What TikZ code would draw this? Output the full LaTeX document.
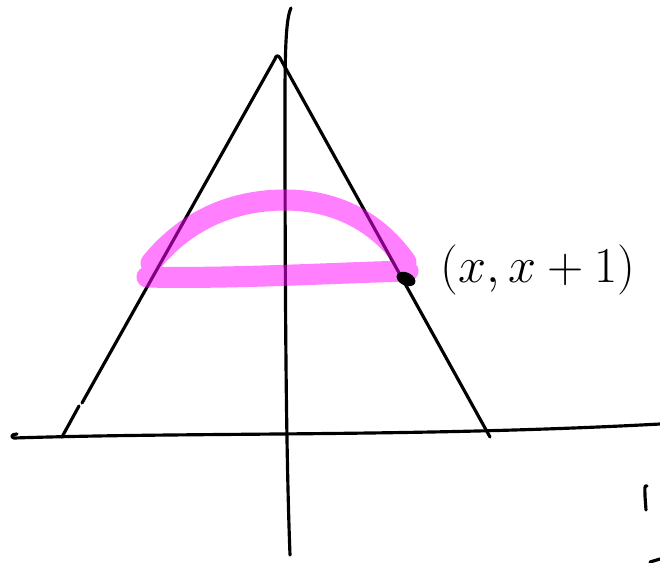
\documentclass[tikz,border=0pt]{standalone}
\usetikzlibrary{calc}
\definecolor{HiliteClr}{rgb}{1,0,1}

\begin{document}
\begin{tikzpicture}[x=0.02cm,y=-0.02cm,line cap=round,line join=round]

\useasboundingbox (0,0) rectangle (660,562);
\tikzset{pen/.style={line width=1.8pt,color=black},
  hilite/.style={line width=12pt,color=HiliteClr,opacity=0.5}}

\coordinate (A) at (277,56);   % top of the triangle
\coordinate (B) at (62,437);
\coordinate (C) at (490,437);
\coordinate (Gap1) at (79,406);
\coordinate (Gap2) at (82,403);
\coordinate (P) at (406,279);

% axes
\draw[pen] (17,434) .. controls (12,434) and (10,437) .. (14,438)
  .. controls (200,432) and (420,437) .. (660,424);
\draw[pen] (291,8) .. controls (286,18) and (285,50) .. (285,100)
  .. controls (285,300) and (286,450) .. (290,555);

% triangle
\draw[pen] (B) -- (Gap1);
\draw[pen] (Gap2) -- (275,59) .. controls (276,55) and (278,55) .. (280,58) -- (C);

% highlighted region
\draw[hilite] (147,277) .. controls (230,279) and (330,273) .. (408,271)
  (151,263) .. controls (190,215) and (240,200) .. (285,200)
  .. controls (340,200) and (380,225) .. (406,262);

\fill[black] (P) ellipse[x radius=10, y radius=6.5, rotate=-25];
\node[scale=1.15] (lbl) at (538,270) {\Huge$(x, x+1)$};

% stray strokes
\draw[pen] (647,486) .. controls (644,484) and (645,490) .. (645,496) -- (646,510);
\draw[pen] (650,562) -- (660,559);

\end{tikzpicture}
\end{document}
